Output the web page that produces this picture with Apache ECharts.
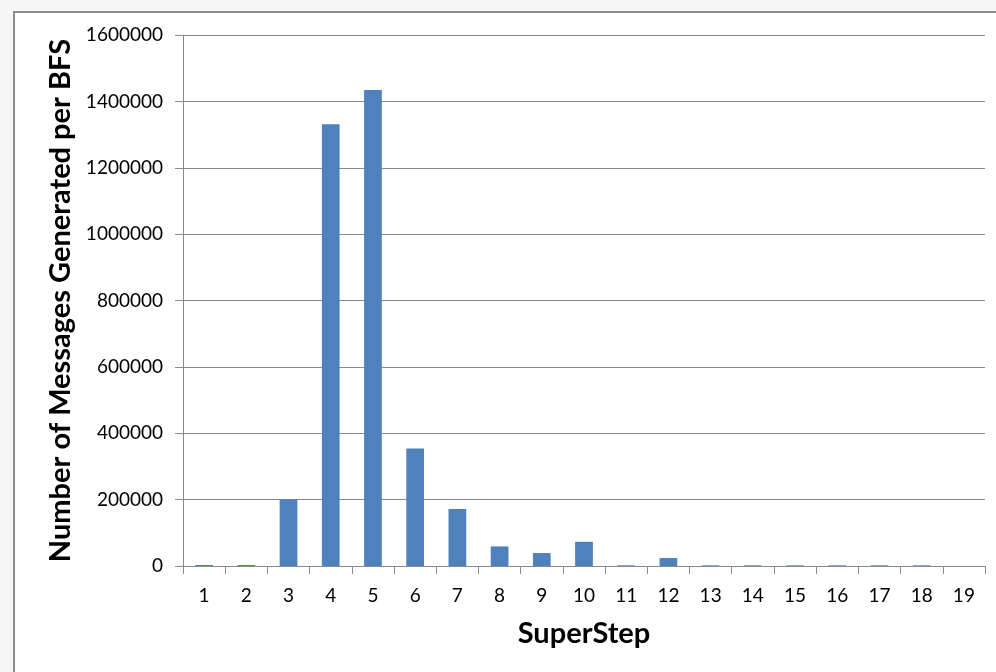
<!DOCTYPE html>
<html>
<head>
<meta charset="utf-8">
<script src="https://cdn.jsdelivr.net/npm/echarts@6/dist/echarts.min.js"></script>
<style>
html,body{margin:0;padding:0;background:#f7f7f7;}
#chart{width:996px;height:672px;}
</style>
</head>
<body>
<div id="chart"></div>
<script>
var categories = ['1','2','3','4','5','6','7','8','9','10','11','12','13','14','15','16','17','18','19'];
var messages = [3000, 3000, 201000, 1331000, 1434000, 354000, 172000, 59000, 39000, 73000, 2000, 24000, 2000, 2000, 2000, 2000, 2000, 2000, 0];
var yTicks = { min: 0, max: 1600000, interval: 200000 };
var xTitle = 'SuperStep';
var yTitle = 'Number of Messages Generated per BFS';

var chart = echarts.init(document.getElementById('chart'));
var gridColor = '#8a8a8a';
chart.setOption({
  backgroundColor: '#f7f7f7',
  animation: false,
  graphic: [{
    type: 'rect', z: -10, silent: true,
    shape: { x: 14, y: 12, width: 1000, height: 700 },
    style: { fill: '#ffffff', stroke: '#8c8c8c', lineWidth: 2 }
  }],
  grid: { left: 183, right: 11, top: 35, bottom: 106 },
  xAxis: {
    type: 'category',
    data: categories,
    name: xTitle,
    nameLocation: 'middle',
    nameGap: 53,
    nameTextStyle: { fontFamily: 'Lato', fontWeight: 'bold', fontSize: 29, color: '#000' },
    axisLine: { lineStyle: { color: gridColor, width: 1 } },
    axisTick: { show: true, length: 8, lineStyle: { color: gridColor } },
    axisLabel: { fontFamily: 'Lato', fontSize: 19, color: '#000', margin: 20 },
    splitLine: { show: false }
  },
  yAxis: {
    type: 'value',
    min: yTicks.min, max: yTicks.max, interval: yTicks.interval,
    name: yTitle,
    nameLocation: 'middle',
    nameGap: 106,
    nameTextStyle: { fontFamily: 'Lato', fontWeight: 'bold', fontSize: 29, color: '#000' },
    axisLine: { show: true, lineStyle: { color: gridColor, width: 1 } },
    axisTick: { show: true, length: 8, lineStyle: { color: gridColor } },
    axisLabel: { fontFamily: 'Lato', fontSize: 19, color: '#000', margin: 20,
      formatter: function (v) { return String(v); } },
    splitLine: { show: true, lineStyle: { color: gridColor, width: 1 } }
  },
  series: [{
    type: 'bar',
    data: messages,
    barWidth: '42%',
    itemStyle: { color: '#4f81bd' }
  }]
});
</script>
</body>
</html>
